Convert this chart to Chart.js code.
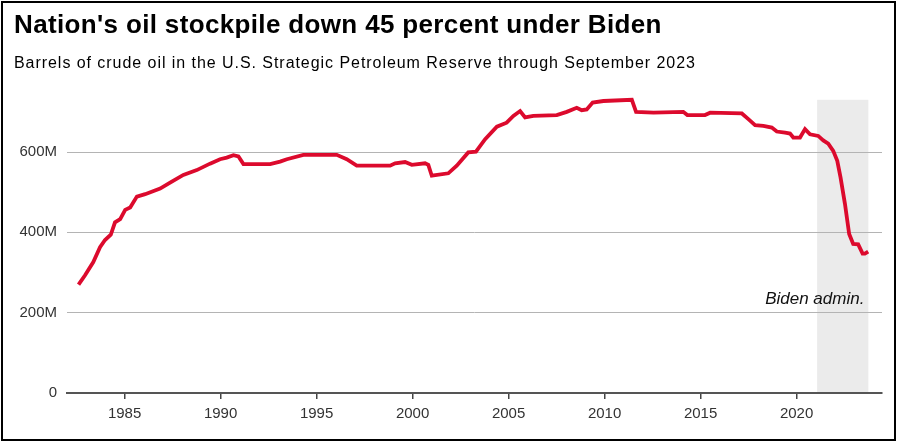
<!DOCTYPE html>
<html>
<head>
<meta charset="utf-8">
<script src="https://cdn.jsdelivr.net/npm/chart.js@4.4.1/dist/chart.umd.min.js"></script>
<style>
    html, body { margin: 0; padding: 0; background: #fff; }
    body { width: 897px; height: 443px; position: relative; overflow: hidden; }
    .frame {
        position: absolute; left: 1px; top: 1px; width: 895px; height: 440px;
        box-sizing: border-box; border: 2px solid #000; z-index: 3; pointer-events: none;
    }
    .title, .subtitle {
        position: absolute; left: 14px; margin: 0; white-space: nowrap; color: #000;
        font-family: "Liberation Sans", Arial, sans-serif; z-index: 2;
    }
    .title { top: 11px; font-size: 26px; line-height: 26px; font-weight: bold; letter-spacing: 0.35px; }
    .subtitle { top: 55px; font-size: 16px; line-height: 16px; letter-spacing: 0.95px; }
    #chart-wrap { position: absolute; left: 0; top: 0; width: 897px; height: 443px; }
</style>
</head>
<body>
<div class="frame"></div>
<div class="title" id="title">Nation's oil stockpile down 45 percent under Biden</div>
<div class="subtitle" id="subtitle">Barrels of crude oil in the U.S. Strategic Petroleum Reserve through September 2023</div>
<div id="chart-wrap"><canvas id="spr-chart" width="897" height="443"></canvas></div>
<script>
// year (decimal) and barrels in millions
const years = [
    1982.6, 1982.94, 1983.37, 1983.72, 1983.98, 1984.28, 1984.5, 1984.77, 1985.03, 1985.29,
    1985.64, 1986.07, 1986.85, 1987.37, 1988.06, 1988.76, 1989.45, 1989.97, 1990.32, 1990.67,
    1990.93, 1991.19, 1992.58, 1993.1, 1993.45, 1994.31, 1996.05, 1996.57, 1997.09, 1998.83,
    1999.09, 1999.61, 1999.96, 2000.65, 2000.82, 2001.0, 2001.86, 2002.3, 2002.9, 2003.3,
    2003.78, 2004.39, 2004.9, 2005.25, 2005.6, 2005.86, 2006.29, 2007.51, 2008.03, 2008.55,
    2008.81, 2009.07, 2009.38, 2009.94, 2011.42, 2011.64, 2012.55, 2014.1, 2014.31, 2015.23,
    2015.5, 2017.15, 2017.49, 2017.84, 2018.27, 2018.71, 2018.97, 2019.4, 2019.66, 2019.83,
    2020.18, 2020.44, 2020.7, 2021.13, 2021.39, 2021.65, 2021.91, 2022.12, 2022.29, 2022.52,
    2022.74, 2022.95, 2023.21, 2023.44, 2023.56, 2023.73
];
const barrels = [
    270, 293, 326, 363, 381, 394, 425, 433, 456, 462,
    489, 495, 509, 524, 543, 555, 571, 582, 586, 592,
    589, 570, 570, 576, 582, 593, 593, 582, 566, 566,
    572, 575, 568, 572, 568, 541, 547, 566, 599, 601,
    632, 663, 673, 690, 702, 686, 690, 692, 700, 710,
    704, 706, 723, 727, 730, 700, 698, 700, 692, 692,
    698, 696, 682, 667, 665, 661, 651, 648, 646, 636,
    636, 657, 644, 640, 629, 621, 603, 578, 537, 471,
    396, 371, 370, 347, 347, 352
];
const yearTicks = [1985, 1990, 1995, 2000, 2005, 2010, 2015, 2020];
const valueTicks = [0, 200, 400, 600];
const bidenSpan = [2021.07, 2023.74];
const bidenLabel = "Biden admin.";

const shadePlugin = {
    id: "bidenShade",
    beforeDraw(chart) {
        const { ctx, scales: { x, y } } = chart;
        const left = x.getPixelForValue(bidenSpan[0]);
        const right = x.getPixelForValue(bidenSpan[1]);
        const top = y.getPixelForValue(730);
        const bottom = y.getPixelForValue(0) - 1;
        ctx.save();
        ctx.fillStyle = "#ebebeb";
        ctx.fillRect(left, top, right - left, bottom - top);
        ctx.restore();
    },
    afterDatasetsDraw(chart) {
        const { ctx, scales: { x, y } } = chart;
        ctx.save();
        ctx.font = "italic 17px 'Liberation Sans', Arial, sans-serif";
        ctx.fillStyle = "#111";
        ctx.textAlign = "right";
        ctx.textBaseline = "alphabetic";
        ctx.fillText(bidenLabel, x.getPixelForValue(bidenSpan[1]) - 4, y.getPixelForValue(222));
        ctx.restore();
    }
};

const tickFont = { family: "'Liberation Sans', Arial, sans-serif", size: 15 };

new Chart(document.getElementById("spr-chart"), {
    type: "line",
    data: {
        datasets: [{
            data: years.map((yr, i) => ({ x: yr, y: barrels[i] })),
            borderColor: "#dc0a2d",
            borderWidth: 3.8,
            pointRadius: 0,
            tension: 0,
            fill: false,
            clip: 6
        }]
    },
    options: {
        responsive: false,
        animation: false,
        layout: { padding: { left: 0, right: 15, top: 99, bottom: 0 } },
        plugins: { legend: { display: false }, tooltip: { enabled: false } },
        scales: {
            x: {
                type: "linear",
                min: 1982.0,
                max: 2024.45,
                afterBuildTicks: (axis) => { axis.ticks = yearTicks.map((v) => ({ value: v })); },
                afterFit: (axis) => { axis.height = 50; },
                grid: { drawOnChartArea: false, drawTicks: true, tickLength: 6, color: "#444", lineWidth: 1.5 },
                border: { display: true, color: "#555", width: 2 },
                ticks: { color: "#333", font: tickFont, padding: 6, maxRotation: 0, callback: (v) => String(v) }
            },
            y: {
                min: 0,
                max: 732,
                afterBuildTicks: (axis) => { axis.ticks = valueTicks.map((v) => ({ value: v })); },
                afterFit: (axis) => { axis.width = 67; },
                grid: {
                    drawTicks: false,
                    color: (c) => (c.tick && c.tick.value === 0 ? "#555" : "#b4b4b4"),
                    lineWidth: (c) => (c.tick && c.tick.value === 0 ? 2 : 1)
                },
                border: { display: false },
                ticks: { color: "#333", font: tickFont, padding: 10, callback: (v) => (v === 0 ? "0" : v + "M") }
            }
        }
    },
    plugins: [shadePlugin]
});
</script>
</body>
</html>
